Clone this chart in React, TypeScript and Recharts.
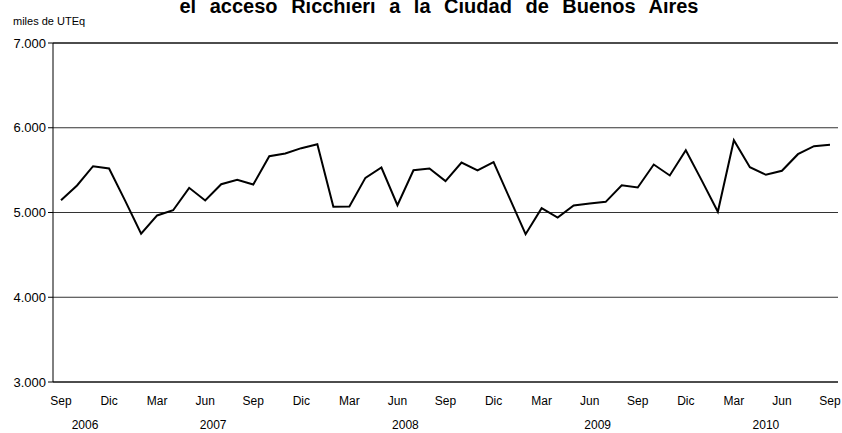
import React from "react";
import { CartesianGrid, Line, LineChart, ReferenceLine, XAxis, YAxis } from "recharts";

const months = [
  "Sep", "Oct", "Nov", "Dic",
  "Ene", "Feb", "Mar", "Abr", "May", "Jun", "Jul", "Ago", "Sep", "Oct", "Nov", "Dic",
  "Ene", "Feb", "Mar", "Abr", "May", "Jun", "Jul", "Ago", "Sep", "Oct", "Nov", "Dic",
  "Ene", "Feb", "Mar", "Abr", "May", "Jun", "Jul", "Ago", "Sep", "Oct", "Nov", "Dic",
  "Ene", "Feb", "Mar", "Abr", "May", "Jun", "Jul", "Ago", "Sep",
];

// miles de UTEq
const traffic = [
  5145, 5319, 5546, 5519,
  5140, 4749, 4965, 5027, 5291, 5142, 5334, 5385, 5330, 5664, 5696, 5759, 5806,
  5067, 5071, 5409, 5531, 5086, 5499, 5519, 5370, 5590, 5496, 5594,
  5169, 4744, 5051, 4941, 5083, 5106, 5126, 5322, 5295, 5566, 5437, 5735,
  5376, 5008, 5853, 5535, 5445, 5492, 5688, 5782, 5799,
];

const monthTicks = [0, 3, 6, 9, 12, 15, 18, 21, 24, 27, 30, 33, 36, 39, 42, 45, 48];
const years = ["2006", "2007", "2008", "2009", "2010"];
const yearPos = [1.5, 9.5, 21.5, 33.5, 44];
const yTicks = [3000, 4000, 5000, 6000, 7000];

const data = traffic.map((v, i) => ({ i, month: months[i], v }));

const font = "'Liberation Sans', Arial, sans-serif";

const MonthTick = (props: any) => {
  const { x, y, payload } = props;
  return (
    <text x={x} y={y} dy={15} textAnchor="middle" fontSize={12} fontFamily={font} fill="#000">
      {months[payload.value]}
    </text>
  );
};

const YearTick = (props: any) => {
  const { x, y, payload } = props;
  const idx = yearPos.indexOf(payload.value);
  return (
    <text x={x} y={y} dy={17} textAnchor="middle" fontSize={12} fontFamily={font} fill="#000">
      {years[idx]}
    </text>
  );
};

export default function App() {
  return (
    <div style={{ position: "absolute", left: 0, top: 0, width: 842, height: 433, background: "#fff", overflow: "hidden", fontFamily: font }}>
      <div
        style={{
          position: "absolute",
          left: 0,
          width: 842,
          top: -5,
          textAlign: "center",
          fontSize: 20,
          lineHeight: "23px",
          fontWeight: "bold",
          wordSpacing: 8,
          paddingLeft: 36,
          boxSizing: "border-box",
          whiteSpace: "nowrap",
        }}
      >
        el acceso Ricchieri a la Ciudad de Buenos Aires
      </div>
      <div style={{ position: "absolute", left: 13, top: 15, fontSize: 11 }}>miles de UTEq</div>
      <LineChart width={842} height={433} data={data} margin={{ top: 43, right: 4, bottom: 0, left: 0 }}>
        <CartesianGrid horizontal vertical={false} stroke="#333" />
        <XAxis
          dataKey="i"
          type="number"
          domain={[-0.5, 48.5]}
          ticks={monthTicks}
          interval={0}
          height={22}
          axisLine={{ stroke: "#000" }}
          tickLine={false}
          tick={<MonthTick />}
        />
        <XAxis
          xAxisId="year"
          dataKey="i"
          type="number"
          domain={[-0.5, 48.5]}
          ticks={yearPos}
          interval={0}
          height={29}
          axisLine={false}
          tickLine={false}
          tick={<YearTick />}
        />
        <YAxis
          domain={[3000, 7000]}
          ticks={yTicks}
          interval={0}
          width={53}
          tickSize={5}
          tickMargin={2}
          axisLine={{ stroke: "#000" }}
          tickLine={{ stroke: "#000" }}
          tick={{ fontSize: 13, fill: "#000", fontFamily: font }}
          tickFormatter={(v: number) => String(v / 1000) + ".000"}
        />
        <YAxis yAxisId="r" orientation="right" width={0} domain={[3000, 7000]} tick={false} tickLine={false} axisLine={{ stroke: "#000" }} />
        <ReferenceLine y={7000} stroke="#000" />
        <Line
          dataKey="v"
          stroke="#000"
          strokeWidth={2}
          dot={false}
          isAnimationActive={false}
        />
      </LineChart>
    </div>
  );
}
